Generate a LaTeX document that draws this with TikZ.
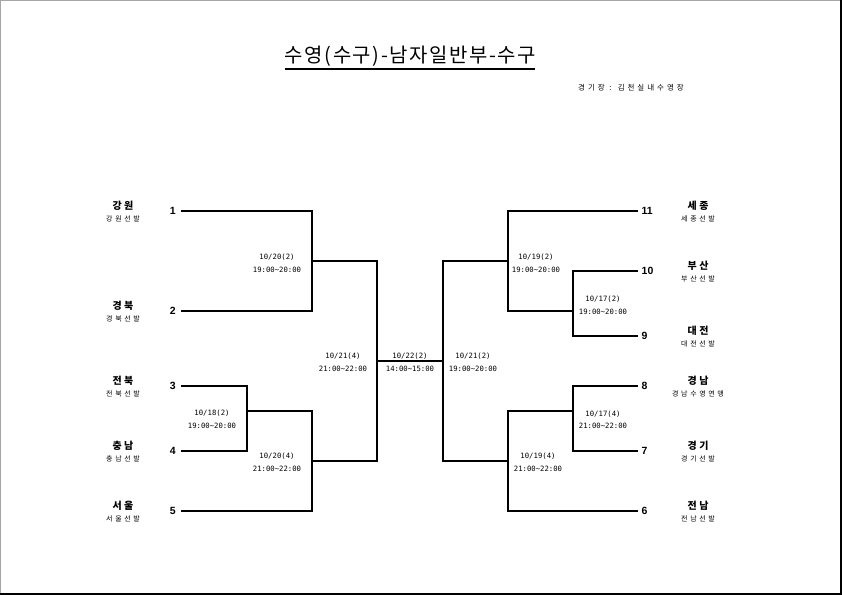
\documentclass[tikz,border=0pt]{standalone}
\usepackage{fontspec}
\setmainfont{Noto Sans CJK KR}
\newfontfamily\titlefont[LetterSpace=8]{Noto Sans CJK KR}
\newfontfamily\subfont[LetterSpace=38]{Noto Sans CJK KR}
\newfontfamily\venuefont[LetterSpace=40]{Noto Sans CJK KR}
\newfontfamily\namefont[LetterSpace=25]{Noto Sans CJK KR}
\newfontfamily\lblfont{DejaVu Sans Mono}
\newfontfamily\numfont{Liberation Sans}
\begin{document}
\begin{tikzpicture}[x=1bp,y=-1bp,
  bline/.style={line width=2.9bp, line join=miter},
  seedL/.style={anchor=east, inner sep=0pt, inner xsep=5bp, font=\numfont\bfseries\fontsize{10.5}{10.5}\selectfont},
  seedR/.style={anchor=west, inner sep=0pt, inner xsep=3.5bp, font=\numfont\bfseries\fontsize{10.5}{10.5}\selectfont},
  tname/.style={inner sep=0pt, font=\namefont\bfseries\fontsize{10}{10}\selectfont},
  tsub/.style={inner sep=0pt, font=\subfont\fontsize{7}{7}\selectfont},
  lbl/.style={inner sep=0pt, align=center, font=\lblfont\fontsize{7.3}{12.8}\selectfont}]
\useasboundingbox (0,0) rectangle (842,595);
% frame
\draw[gray!70, line width=1bp] (0.5,595) -- (0.5,0.5) -- (842,0.5);
\draw[line width=2bp] (840.5,0) -- (840.5,593.5) -- (0,593.5);
% title
\node[inner sep=0pt] (title) at (410.5,56) {\titlefont\fontsize{20}{20}\selectfont 수영(수구)-남자일반부-수구};
\draw[line width=1.6bp] (285,69.3) -- (535,69.3);
\node[inner sep=0pt] (venue) at (631,88) {\venuefont\fontsize{7.5}{7.5}\selectfont 경기장 : 김천실내수영장};
% left seeds
\node[seedL] (n1) at (181,211) {1};
\node[seedL] (n2) at (181,311) {2};
\node[seedL] (n3) at (181,386) {3};
\node[seedL] (n4) at (181,451) {4};
\node[seedL] (n5) at (181,511) {5};
% right seeds
\node[seedR] (n11) at (638,211) {11};
\node[seedR] (n10) at (638,271) {10};
\node[seedR] (n9)  at (638,336) {9};
\node[seedR] (n8)  at (638,386) {8};
\node[seedR] (n7)  at (638,451) {7};
\node[seedR] (n6)  at (638,511) {6};
% team names left
\node[tname] (t1) at (123,206) {강원};   \node[tsub] (s1) at (123,218.5) {강원선발};
\node[tname] (t2) at (123,306) {경북};   \node[tsub] (s2) at (123,318.5) {경북선발};
\node[tname] (t3) at (123,381) {전북};   \node[tsub] (s3) at (123,393.5) {전북선발};
\node[tname] (t4) at (123,446) {충남};   \node[tsub] (s4) at (123,458.5) {충남선발};
\node[tname] (t5) at (123,506) {서울};   \node[tsub] (s5) at (123,518.5) {서울선발};
% team names right
\node[tname] (t11) at (698,206) {세종};  \node[tsub] (s11) at (698,218.5) {세종선발};
\node[tname] (t10) at (698,266) {부산};  \node[tsub] (s10) at (698,278.5) {부산선발};
\node[tname] (t9)  at (698,331) {대전};  \node[tsub] (s9)  at (698,343.5) {대전선발};
\node[tname] (t8)  at (698,381) {경남};  \node[tsub] (s8)  at (698,393.5) {경남수영연맹};
\node[tname] (t7)  at (698,446) {경기};  \node[tsub] (s7)  at (698,458.5) {경기선발};
\node[tname] (t6)  at (698,506) {전남};  \node[tsub] (s6)  at (698,518.5) {전남선발};
% junctions
\coordinate (m12) at (312,261);
\coordinate (m34) at (247,411);
\coordinate (m345) at (312,461);
\coordinate (mL) at (377,361);
\coordinate (mR) at (443,361);
\coordinate (r1) at (508,261);
\coordinate (m109) at (573,311);
\coordinate (m87) at (573,411);
\coordinate (r2) at (508,461);
% bracket lines
\draw[bline] (n1.east) -| (m12) |- (n2.east);
\draw[bline] (n3.east) -| (m34) |- (n4.east);
\draw[bline] (m34) -| (m345) |- (n5.east);
\draw[bline] (m12) -| (mL) |- (m345);
\draw[bline] (mL) -- (mR);
\draw[bline] (n11.west) -| (r1) |- (m109);
\draw[bline] (n10.west) -| (m109) |- (n9.west);
\draw[bline] (n8.west) -| (m87) |- (n7.west);
\draw[bline] (m87) -| (r2) |- (n6.west);
\draw[bline] (r1) -| (mR) |- (r2);
% match labels
\node[lbl] (d1)  at (277,263.3) {10/20(2)\\19:00\textasciitilde 20:00};
\node[lbl] (d2)  at (212,419.5) {10/18(2)\\19:00\textasciitilde 20:00};
\node[lbl] (d3)  at (277,462.5) {10/20(4)\\21:00\textasciitilde 22:00};
\node[lbl] (d4)  at (343,362.3) {10/21(4)\\21:00\textasciitilde 22:00};
\node[lbl] (d5)  at (410,362.3) {10/22(2)\\14:00\textasciitilde 15:00};
\node[lbl] (d6)  at (473,362.3) {10/21(2)\\19:00\textasciitilde 20:00};
\node[lbl] (d7)  at (536,263)   {10/19(2)\\19:00\textasciitilde 20:00};
\node[lbl] (d8)  at (603,305.3) {10/17(2)\\19:00\textasciitilde 20:00};
\node[lbl] (d9)  at (603,419.7) {10/17(4)\\21:00\textasciitilde 22:00};
\node[lbl] (d10) at (538,462.5) {10/19(4)\\21:00\textasciitilde 22:00};
\end{tikzpicture}
\end{document}
